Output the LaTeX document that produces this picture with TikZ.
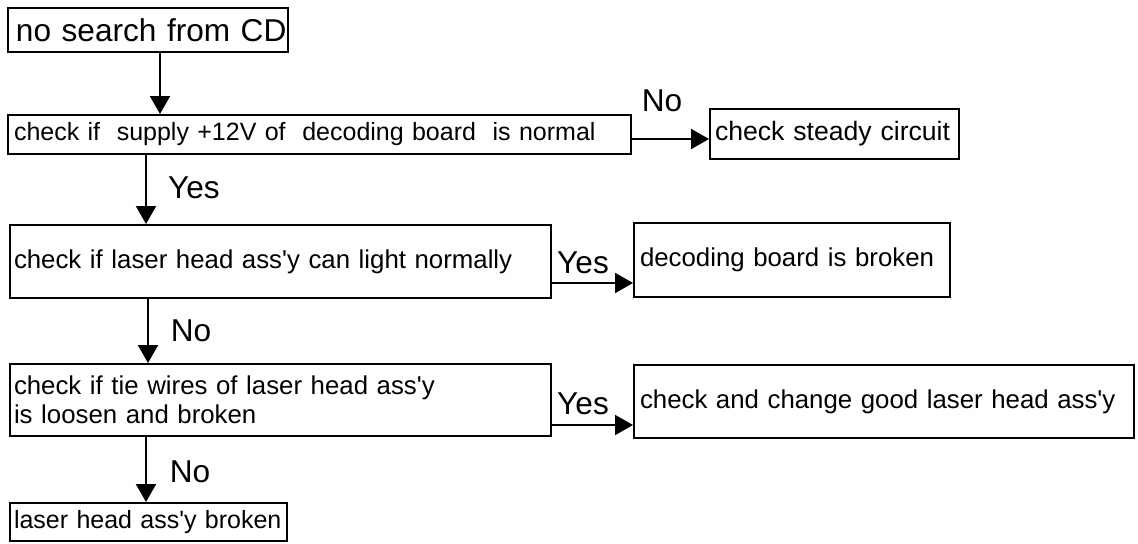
\documentclass[tikz,border=0pt]{standalone}
\usepackage{fontspec}
\setmainfont{Liberation Sans}
\usetikzlibrary{arrows.meta,calc}
\tikzset{
  box/.style={draw,line width=1pt,anchor=north west,inner ysep=0pt,align=left,
    font=\fontsize{12.9}{14.5}\selectfont},
  big/.style={font=\fontsize{15.8}{19}\selectfont},
  flow/.style={line width=1pt,-{Triangle[length=9pt,width=10pt]}},
  tag/.style={font=\fontsize{15.8}{19}\selectfont,inner sep=0pt},
}
\begin{document}
\begin{tikzpicture}[x=0.5pt,y=-0.5pt]
  \useasboundingbox (0,0) rectangle (1138,543);
  % main chain
  \node[box,big,inner xsep=4pt,text width=132pt,minimum height=22pt] (nosearch) at (7,7) {\mbox{no search from CD}};
  \node[box,inner xsep=3pt,text width=305.5pt,minimum height=19.5pt,font=\fontsize{12.5}{14.5}\selectfont] (supply) at (7,114)
    {\mbox{check if\ \ supply +12V of\ \ decoding board\ \ is normal}};
  \node[box,inner xsep=2pt,text width=266.5pt,minimum height=36.5pt] (laser) at (9,224)
    {\mbox{check if laser head ass\textquotesingle y can light normally}\\[3pt]};
  \node[box,inner xsep=2pt,text width=266.5pt,minimum height=36pt] (wires) at (9,363)
    {\mbox{check if tie wires of laser head ass\textquotesingle y}\\\mbox{is loosen and broken}};
  \node[box,inner xsep=2pt,text width=134.5pt,minimum height=19pt,font=\fontsize{12.5}{14.5}\selectfont] (broken) at (9,502)
    {\mbox{laser head ass\textquotesingle y broken}};
  % side results
  \node[box,inner xsep=2.5pt,text width=119.5pt,minimum height=25pt,font=\fontsize{13.3}{14.5}\selectfont] (steady) at (709,108)
    {\mbox{check steady circuit}};
  \node[box,inner xsep=3pt,text width=152pt,minimum height=37pt] (decoding) at (633,222) {\mbox{decoding board is broken}};
  \node[box,inner xsep=3pt,text width=244pt,minimum height=36.5pt] (change) at (633,364) {\mbox{check and change good laser head ass\textquotesingle y}};
  % connectors
  \draw[flow] ($(nosearch.south west)+(153,0)$) coordinate (p1) -- (p1 |- supply.north);
  \draw[flow] ($(supply.south west)+(139,0)$) coordinate (p2) -- (p2 |- laser.north);
  \draw[flow] ($(laser.south west)+(139,0)$) coordinate (p3) -- (p3 |- wires.north);
  \draw[flow] ($(wires.south west)+(137,0)$) coordinate (p4) -- (p4 |- broken.north);
  \draw[flow] ($(supply.north east)+(0,25)$) coordinate (q1) -- (q1 -| steady.west);
  \draw[flow] ($(laser.north east)+(0,59)$) coordinate (q2) -- (q2 -| decoding.west);
  \draw[flow] ($(wires.north east)+(0,62)$) coordinate (q3) -- (q3 -| change.west);
  % labels
  \node[tag] (no1) at (662,101) {No};
  \node[tag] (yes1) at (194,188) {Yes};
  \node[tag] (yes2) at (583,263) {Yes};
  \node[tag] (no2) at (191,331) {No};
  \node[tag] (yes3) at (583,404) {Yes};
  \node[tag] (no3) at (190,472) {No};
\end{tikzpicture}
\end{document}
